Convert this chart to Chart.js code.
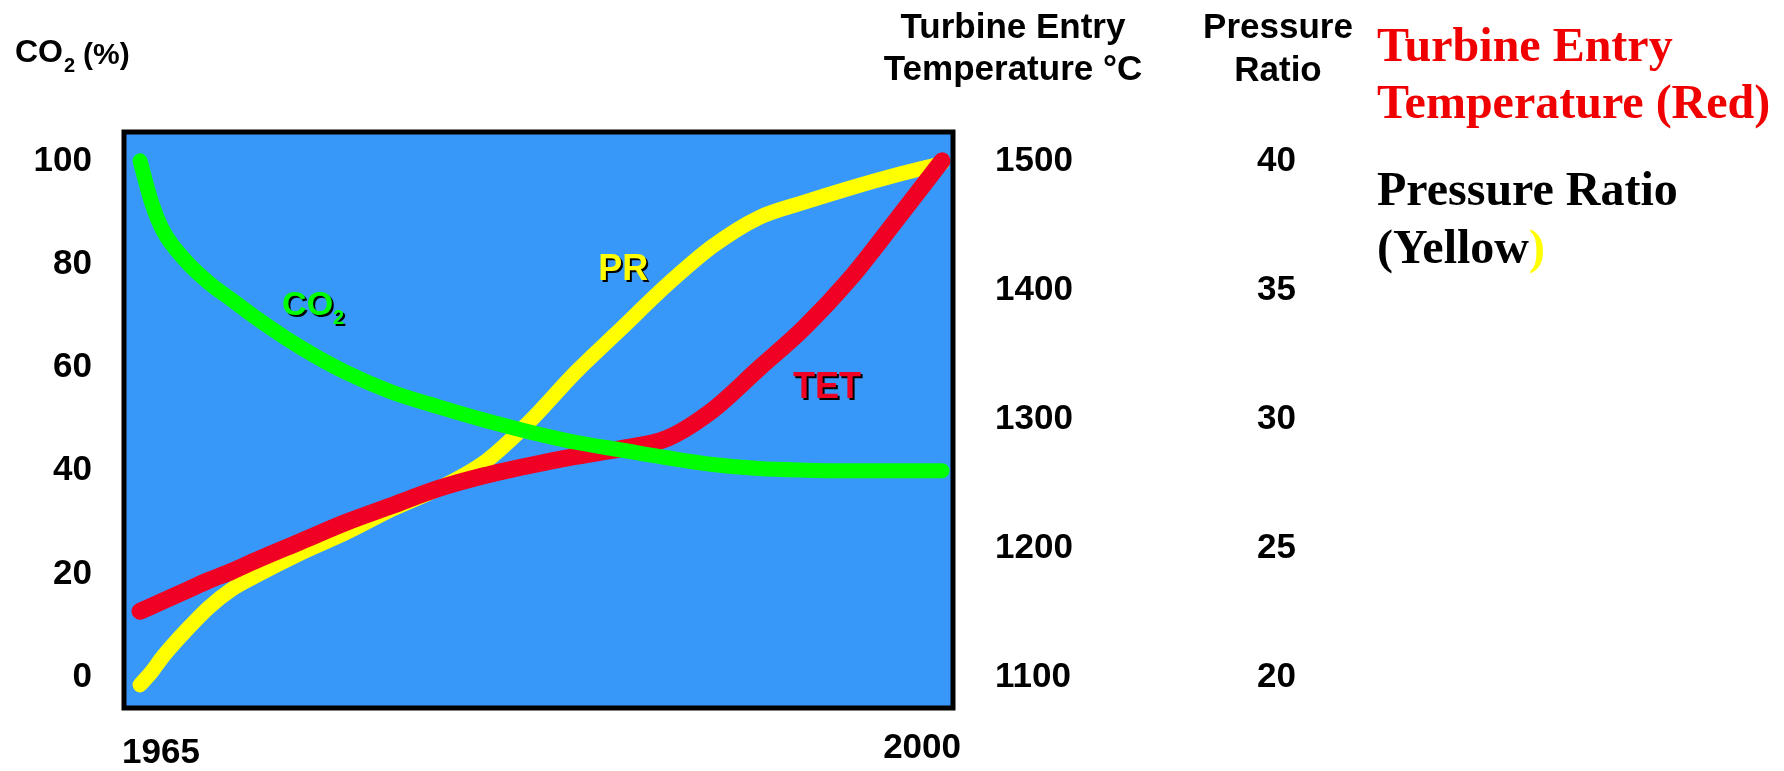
<!DOCTYPE html>
<html>
<head>
<meta charset="utf-8">
<script src="https://cdn.jsdelivr.net/npm/chart.js@4/dist/chart.umd.min.js"></script>
<style>
  html, body { margin: 0; padding: 0; background: #ffffff; }
  canvas { display: block; }
</style>
</head>
<body>
<canvas id="chart" width="1784" height="771"></canvas>
<script>
// Gas turbine trends 1965-2000: CO2 emission (%), turbine entry temperature (°C), pressure ratio
const years = [1965, 1965.5, 1966, 1967, 1968, 1969, 1970, 1972, 1974, 1976, 1978, 1980, 1982, 1984, 1986, 1988, 1990, 1992, 1994, 1996, 1998, 2000];
const co2Percent = [100, 92, 86.5, 80.6, 76.4, 73.1, 69.8, 63.9, 59.0, 55.2, 52.4, 49.8, 47.5, 45.5, 44.0, 42.5, 41.2, 40.4, 40.1, 40, 40, 40];
const turbineEntryTemp = [1151, 1155, 1159, 1167, 1175, 1182, 1190, 1205, 1220, 1233, 1246, 1256, 1264, 1271, 1277, 1285, 1307, 1339, 1371, 1409, 1454, 1500];
const pressureRatio = [19.7, 20.2, 20.8, 21.8, 22.7, 23.4, 23.9, 24.8, 25.6, 26.5, 27.3, 28.3, 29.9, 31.8, 33.5, 35.2, 36.7, 37.8, 38.4, 38.95, 39.45, 39.9];

const co2Ticks = [0, 20, 40, 60, 80, 100];
const tetTicks = [1100, 1200, 1300, 1400, 1500];
const prTicks = [20, 25, 30, 35, 40];
const yearLabels = ['1965', '2000'];

// In-plot curve names, placed in each series' own units
const curveNames = [
  { text: 'CO', sub: '2', year: 1971.2, value: 70.1, axis: 'yCO2', color: '#00ff00', size: 34 },
  { text: 'PR', sub: '', year: 1985.0, value: 35.4, axis: 'yPR', color: '#ffff00', size: 36 },
  { text: 'TET', sub: '', year: 1993.5, value: 1316, axis: 'yTET', color: '#f00022', size: 36 }
];

const COLORS = {
  plotBg: '#3898fa',
  co2: '#00ff00',
  tet: '#f00022',
  pr: '#ffff00',
  legendRed: '#f00000'
};

const SANS = '"Liberation Sans", Arial, sans-serif';
const SERIF = '"Liberation Serif", "Times New Roman", serif';

const toPoints = (vals) => years.map((x, i) => ({ x: x, y: vals[i] }));

const fixedTicks = (list) => (scale) => { scale.ticks = list.map(v => ({ value: v })); };

const tickFont = { family: SANS, size: 35, weight: 'bold' };

const framePlugin = {
  id: 'plotFrame',
  beforeDatasetsDraw(chart) {
    const a = chart.chartArea, ctx = chart.ctx;
    ctx.save();
    ctx.fillStyle = COLORS.plotBg;
    ctx.fillRect(a.left, a.top, a.right - a.left, a.bottom - a.top);
    ctx.restore();
  },
  afterDatasetsDraw(chart) {
    const a = chart.chartArea, ctx = chart.ctx;
    ctx.save();
    ctx.strokeStyle = '#000000';
    ctx.lineWidth = 5;
    ctx.strokeRect(a.left, a.top, a.right - a.left, a.bottom - a.top);
    ctx.restore();
  }
};

const textPlugin = {
  id: 'textLayer',
  afterDraw(chart) {
    const ctx = chart.ctx, a = chart.chartArea;
    ctx.save();
    ctx.fillStyle = '#000000';
    ctx.textBaseline = 'alphabetic';

    // Left axis title: CO2 (%)
    ctx.textAlign = 'left';
    ctx.font = 'bold 32px ' + SANS;
    ctx.fillText('CO', 15, 62);
    let x = 15 + ctx.measureText('CO').width + 1;
    ctx.font = 'bold 20px ' + SANS;
    ctx.fillText('2', x, 72);
    x += ctx.measureText('2').width + 8;
    ctx.font = 'bold 30px ' + SANS;
    ctx.fillText('(%)', x, 64);

    // Right axis titles
    ctx.textAlign = 'center';
    ctx.font = 'bold 35px ' + SANS;
    ctx.fillText('Turbine Entry', 1013, 38);
    ctx.fillText('Temperature °C', 1013, 80);
    ctx.fillText('Pressure', 1278, 38);
    ctx.fillText('Ratio', 1278, 81);

    // Year labels at the ends of the time axis
    ctx.font = 'bold 35px ' + SANS;
    ctx.textBaseline = 'middle';
    ctx.textAlign = 'left';
    ctx.fillText(yearLabels[0], a.left - 2, a.bottom + 45);
    ctx.textAlign = 'right';
    ctx.fillText(yearLabels[1], a.right + 8, a.bottom + 40);

    // Curve names inside the plot
    ctx.textBaseline = 'alphabetic';
    ctx.textAlign = 'left';
    curveNames.forEach(n => {
      const px = chart.scales.x.getPixelForValue(n.year);
      const py = chart.scales[n.axis].getPixelForValue(n.value);
      ctx.shadowColor = '#000000';
      ctx.shadowOffsetX = 2;
      ctx.shadowOffsetY = 2;
      ctx.shadowBlur = 0;
      ctx.fillStyle = n.color;
      ctx.font = 'bold ' + n.size + 'px ' + SANS;
      ctx.fillText(n.text, px, py);
      if (n.sub) {
        const w = ctx.measureText(n.text).width;
        ctx.font = 'bold 20px ' + SANS;
        ctx.fillText(n.sub, px + w, py + 9);
      }
    });
    ctx.shadowColor = 'transparent';
    ctx.shadowOffsetX = 0;
    ctx.shadowOffsetY = 0;

    // Colour key text
    ctx.font = 'bold 48px ' + SERIF;
    ctx.fillStyle = COLORS.legendRed;
    ctx.fillText('Turbine Entry', 1377, 61);
    ctx.fillText('Temperature (Red)', 1377, 118);
    ctx.fillStyle = '#000000';
    ctx.fillText('Pressure Ratio', 1377, 205);
    ctx.fillText('(Yellow', 1377, 263);
    const yw = ctx.measureText('(Yellow').width;
    ctx.fillStyle = COLORS.pr;
    ctx.fillText(')', 1377 + yw, 263);

    ctx.restore();
  }
};

new Chart(document.getElementById('chart'), {
  type: 'line',
  data: {
    datasets: [
      {
        label: 'CO2 (%)',
        data: toPoints(co2Percent),
        yAxisID: 'yCO2',
        borderColor: COLORS.co2,
        borderWidth: 15
      },
      {
        label: 'Turbine Entry Temperature (°C)',
        data: toPoints(turbineEntryTemp),
        yAxisID: 'yTET',
        borderColor: COLORS.tet,
        borderWidth: 17
      },
      {
        label: 'Pressure Ratio',
        data: toPoints(pressureRatio),
        yAxisID: 'yPR',
        borderColor: COLORS.pr,
        borderWidth: 15
      }
    ].map(d => Object.assign(d, {
      pointRadius: 0,
      pointHoverRadius: 0,
      fill: false,
      cubicInterpolationMode: 'monotone',
      borderCapStyle: 'round',
      borderJoinStyle: 'round'
    }))
  },
  options: {
    responsive: false,
    animation: false,
    devicePixelRatio: 1,
    layout: { padding: { top: 132, bottom: 60, left: 0, right: 0 } },
    plugins: {
      legend: { display: false },
      tooltip: { enabled: false },
      title: { display: false }
    },
    scales: {
      x: {
        type: 'linear',
        min: 1964.3,
        max: 2000.48,
        display: false
      },
      yCO2: {
        type: 'linear',
        position: 'left',
        min: -5.97,
        max: 105.59,
        grid: { display: false, drawTicks: false },
        border: { display: false },
        afterBuildTicks: fixedTicks(co2Ticks),
        afterFit: (s) => { s.width = 124; },
        ticks: {
          autoSkip: false,
          padding: 32,
          color: '#000000',
          font: tickFont,
          callback: (v) => String(v)
        }
      },
      yTET: {
        type: 'linear',
        position: 'right',
        weight: 0,
        min: 1076.1,
        max: 1522.35,
        grid: { display: false, drawTicks: false },
        border: { display: false },
        afterBuildTicks: fixedTicks(tetTicks),
        afterFit: (s) => { s.width = 304; },
        ticks: {
          autoSkip: false,
          padding: 42,
          color: '#000000',
          font: tickFont,
          callback: (v) => String(v)
        }
      },
      yPR: {
        type: 'linear',
        position: 'right',
        weight: 1,
        min: 18.805,
        max: 41.118,
        grid: { display: false, drawTicks: false },
        border: { display: false },
        afterBuildTicks: fixedTicks(prTicks),
        afterFit: (s) => { s.width = 527; },
        ticks: {
          autoSkip: false,
          padding: 0,
          color: '#000000',
          font: tickFont,
          callback: (v) => String(v)
        }
      }
    }
  },
  plugins: [framePlugin, textPlugin]
});
</script>
</body>
</html>
